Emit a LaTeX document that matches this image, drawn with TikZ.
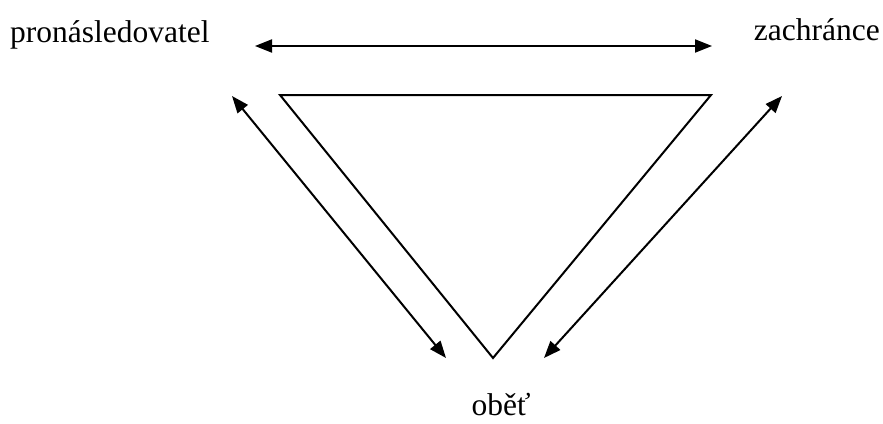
\documentclass[tikz,border=0pt]{standalone}
\usepackage{fontspec}
\setmainfont{Liberation Serif}
\usetikzlibrary{arrows.meta}

\begin{document}
\begin{tikzpicture}[x=1pt, y=-1pt,
                    role/.style={inner sep=0pt, font=\fontsize{31.5}{36}\selectfont},
                    link/.style={{Triangle[length=17pt,width=13pt]}-{Triangle[length=17pt,width=13pt]}, line width=2pt},
                    edge/.style={line width=2pt, line join=miter}]

            \useasboundingbox (0,0) rectangle (883,423);

            \node[role, anchor=base west] (pron) at (10,42)  {pronásledovatel};
            \node[role, anchor=base east] (zach) at (880,40) {zachránce};
            \node[role, anchor=base]      (obet) at (501,415) {oběť};

            % ends of the arrows
            \coordinate (pa) at (255,46);
            \coordinate (za) at (712,46);
            \coordinate (pb) at (232,96);
            \coordinate (ob1) at (446,358);
            \coordinate (ob2) at (544,358);
            \coordinate (zb) at (782,96);

            % the triangle
            \coordinate (t1) at (280,95);
            \coordinate (t2) at (711,95);
            \coordinate (t3) at (493,358);
            \draw[edge] (t1) -- (t2) -- (t3) -- cycle;

            \draw[link] (pa) -- (za);
            \draw[link] (pb) -- (ob1);
            \draw[link] (ob2) -- (zb);
        \end{tikzpicture}
\end{document}
